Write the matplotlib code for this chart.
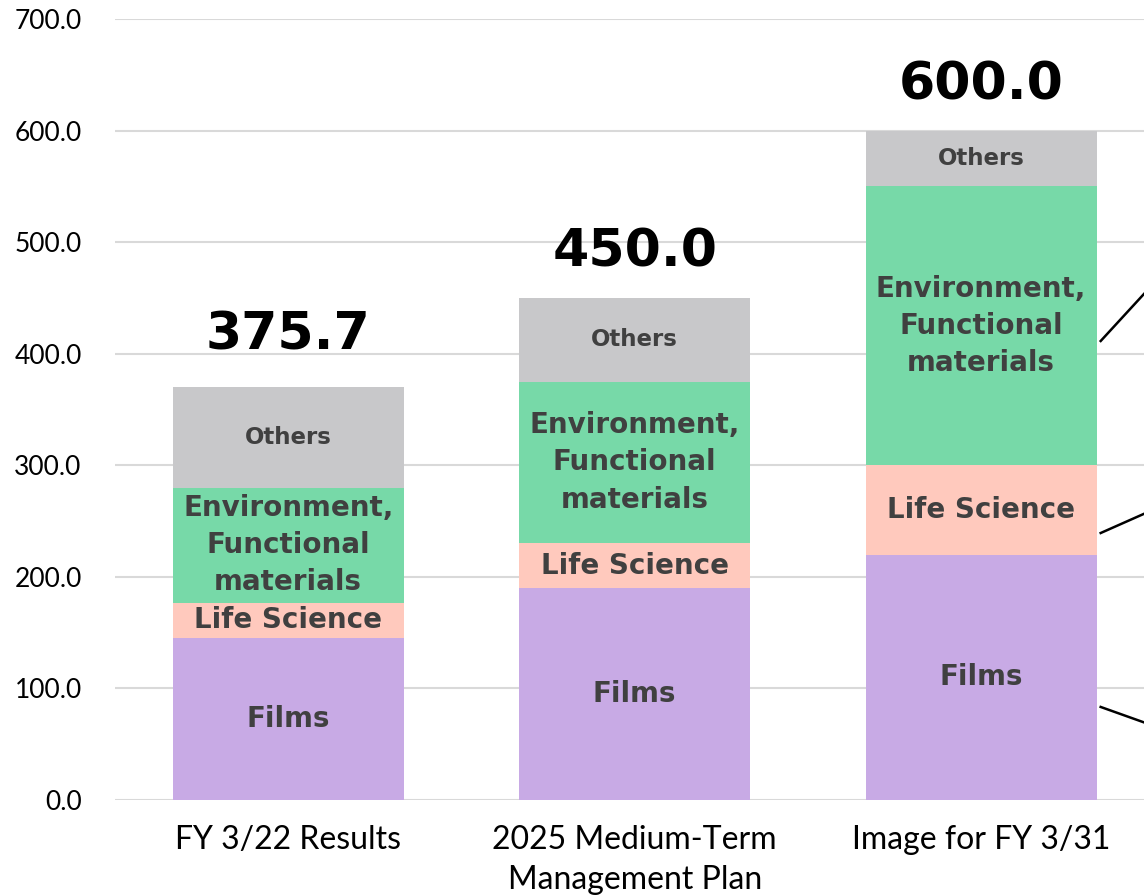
import matplotlib.pyplot as plt
import numpy as np

# --- dane ---
categories = ["FY 3/22 Results", "2025 Medium-Term\nManagement Plan", "Image for FY 3/31"]
films = [145.0, 190.0, 220.0]
life_science = [32.0, 40.0, 80.0]
environment = [103.0, 145.0, 250.0]
others = [90.0, 75.0, 50.0]
totals = [375.7, 450.0, 600.0]

seg_names = ["Films", "Life Science", "Environment,\nFunctional\nmaterials", "Others"]
seg_colors = ["#C8AAE5", "#FFC9BD", "#77D9A8", "#C8C8CA"]
seg_sizes = [20, 20, 20, 16.5]

# linie wskazujące przy prawym słupku (wychodzą poza wykres)
leader_x = [2.345, 2.475]
leaders = [[411.4, 455.3], [239.3, 257.2], [83.4, 69.0]]

plt.rcParams['font.family'] = ['Lato', 'DejaVu Sans']
bold_font = ['DejaVu Sans']

fig = plt.figure(figsize=(11.44, 8.96), dpi=100)
ax = fig.add_axes([115 / 1144, 96 / 896, 1 - 115 / 1144, (800 - 19) / 896])

x = np.arange(len(categories))
width = 0.666
bottom = np.zeros(len(categories))
series = [films, life_science, environment, others]
for vals, name, col, fs in zip(series, seg_names, seg_colors, seg_sizes):
    vals = np.array(vals)
    ax.bar(x, vals, width, bottom=bottom, color=col, zorder=2)
    for xi, b, v in zip(x, bottom, vals):
        ax.text(xi, b + v / 2, name, ha='center', va='center', fontsize=fs,
                family=bold_font, fontweight='bold', color='#404040',
                linespacing=1.42, zorder=3)
    bottom += vals

for xi, t in zip(x, totals):
    ax.annotate(f"{t:.1f}", (xi, t), xytext=(0, 22.5), textcoords='offset points',
                ha='center', va='baseline', fontsize=37.5, family=bold_font,
                fontweight='bold', color='black')

for ys in leaders:
    ax.plot(leader_x, ys, color='black', lw=1.8, clip_on=False, zorder=4)

ax.set_xlim(-0.5, 2.47)
ax.set_ylim(0, 700)
ax.set_yticks(np.arange(0, 701, 100))
ax.set_yticklabels([f"{v:.1f}" for v in np.arange(0, 701, 100)])
ax.set_xticks(x)
ax.set_xticklabels(categories, linespacing=1.4)
ax.tick_params(axis='y', length=0, pad=24, labelsize=19, labelcolor='black')
ax.tick_params(axis='x', length=0, pad=18, labelsize=23, labelcolor='black')
ax.grid(axis='y', color='#D9D9D9', lw=1.5, zorder=0)
ax.set_axisbelow(True)
for s in ax.spines.values():
    s.set_visible(False)

fig.savefig("out.png", dpi=100)
